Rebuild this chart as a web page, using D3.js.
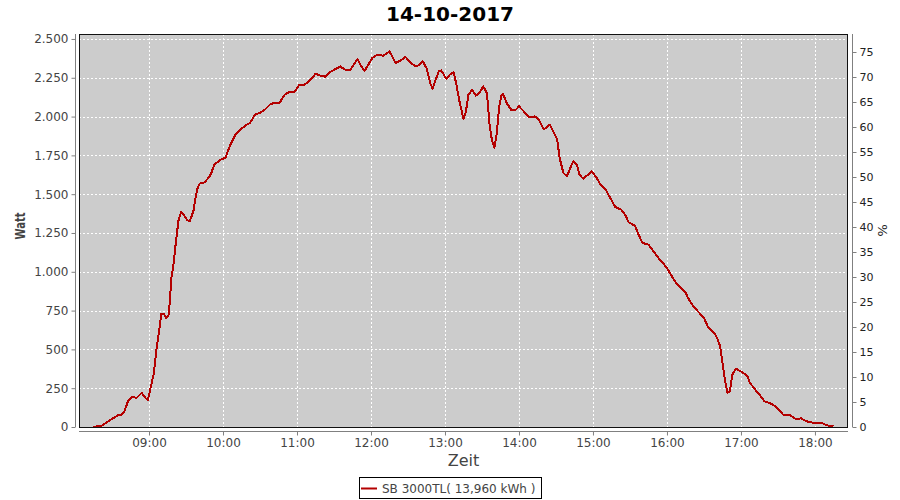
<!DOCTYPE html>
<html><head><meta charset="utf-8">
<script src="https://cdn.jsdelivr.net/npm/d3@7"></script>
<style>body{margin:0;background:#fff}svg{display:block}text{font-family:"DejaVu Sans",sans-serif}</style>
</head><body><svg id="c" width="900" height="500"></svg>
<script>
const title = "14-10-2017";
const seriesName = "SB 3000TL( 13,960 kWh )";
const times = ["08:15","08:22","08:26","08:31","08:35","08:38","08:40","08:43","08:46","08:50","08:54","08:57","08:59","09:01","09:04","09:06","09:08","09:10","09:12","09:14","09:16","09:17","09:18","09:20","09:22","09:23","09:24","09:26","09:28","09:31","09:33","09:36","09:37","09:39","09:41","09:45","09:47","09:50","09:53","09:58","10:02","10:06","10:10","10:14","10:18","10:22","10:26","10:30","10:34","10:38","10:42","10:46","10:50","10:54","10:58","11:02","11:06","11:11","11:15","11:19","11:23","11:27","11:35","11:40","11:43","11:49","11:52","11:55","12:01","12:05","12:10","12:15","12:20","12:24","12:28","12:32","12:36","12:38","12:42","12:45","12:48","12:50","12:52","12:55","12:57","13:01","13:04","13:07","13:09","13:12","13:15","13:17","13:19","13:22","13:25","13:28","13:31","13:34","13:36","13:38","13:40","13:42","13:44","13:46","13:47","13:50","13:54","13:57","14:00","14:04","14:08","14:13","14:16","14:20","14:22","14:25","14:27","14:31","14:33","14:36","14:39","14:41","14:44","14:47","14:49","14:52","14:55","14:59","15:03","15:06","15:10","15:14","15:18","15:23","15:26","15:29","15:34","15:37","15:40","15:45","15:49","15:53","15:57","16:00","16:04","16:07","16:11","16:15","16:17","16:21","16:25","16:30","16:33","16:37","16:40","16:43","16:45","16:47","16:49","16:51","16:53","16:56","17:01","17:05","17:07","17:11","17:15","17:19","17:24","17:28","17:32","17:34","17:40","17:44","17:49","17:53","17:59","18:05","18:10","18:15"];
const watts = [0,10,31,57,76,80,102,166,194,188,220,188,173,241,349,499,606,731,729,703,724,821,950,1057,1207,1272,1336,1383,1368,1332,1325,1390,1444,1529,1568,1576,1594,1626,1690,1722,1735,1819,1883,1916,1941,1960,2012,2025,2045,2077,2090,2090,2141,2160,2160,2205,2205,2237,2276,2263,2257,2287,2323,2297,2297,2371,2323,2296,2377,2399,2392,2420,2345,2362,2384,2349,2323,2328,2355,2313,2216,2180,2227,2291,2297,2244,2270,2285,2216,2088,1986,2033,2141,2173,2135,2152,2194,2152,1959,1851,1798,1894,2066,2141,2147,2088,2040,2040,2066,2033,1995,2001,1980,1920,1927,1948,1916,1851,1733,1637,1615,1658,1712,1690,1626,1600,1619,1647,1605,1562,1534,1476,1418,1400,1368,1319,1297,1240,1186,1175,1132,1090,1053,1025,971,932,896,868,832,782,746,703,649,617,585,525,413,306,220,231,338,375,353,332,288,246,209,166,151,134,102,80,76,53,55,37,27,27,10,5];
const wattTicks = [0,250,500,750,1000,1250,1500,1750,2000,2250,2500];
const pctTicks = [0,5,10,15,20,25,30,35,40,45,50,55,60,65,70,75];

const svg = d3.select("#c");
const L=79, R=848, T=34, B=427;
const day = (h,m,s)=>new Date(2017,9,14,h,m,s||0);
const parse = s=>{const [h,m]=s.split(":").map(Number);return day(h,m);};
const x = d3.scaleTime().domain([day(8,3,14), day(18,26,48)]).range([L,R]);
const y = d3.scaleLinear().domain([0,2532]).range([B,T]);
const yp = d3.scaleLinear().domain([0,78.6]).range([B,T]);
const loc = d3.formatLocale({decimal:",",thousands:".",grouping:[3],currency:["","€"]});
const fmt = loc.format(",d");
const hours = d3.timeHour.range(day(9,0), day(18,30));
const snap = v=>Math.round(v)+0.5;

svg.append("rect").attr("x",L).attr("y",T).attr("width",R-L).attr("height",B-T).attr("fill","#cccccc");
const grid = svg.append("g").attr("stroke","#fff").attr("stroke-dasharray","2,2").attr("stroke-width",1);
wattTicks.forEach(v=>grid.append("line").attr("x1",L).attr("x2",R).attr("y1",snap(y(v))).attr("y2",snap(y(v))));
hours.forEach(h=>grid.append("line").attr("y1",T).attr("y2",B).attr("x1",snap(x(h))).attr("x2",snap(x(h))));

const pts = times.map((t,i)=>[parse(t), watts[i]]);
svg.append("clipPath").attr("id","pc").append("rect").attr("x",L).attr("y",T).attr("width",R-L).attr("height",B-T);
svg.append("path").attr("clip-path","url(#pc)").attr("d", d3.line().x(d=>x(d[0])).y(d=>y(d[1]))(pts))
  .attr("fill","none").attr("stroke","#b40000").attr("stroke-width",2).attr("stroke-linejoin","round")
  .attr("shape-rendering","crispEdges");

svg.append("rect").attr("x",L+0.5).attr("y",T+0.5).attr("width",R-L-1).attr("height",B-T).attr("fill","none").attr("stroke","#111").attr("stroke-width",1);

function styleAxis(g){
  g.selectAll("path.domain").attr("stroke","#808080");
  g.selectAll(".tick line").attr("stroke","#808080");
  g.selectAll(".tick text").attr("fill","#444").style("font-family","DejaVu Sans").style("font-size","12px");
}
const ya = svg.append("g").attr("transform","translate(75.5,0)")
  .call(d3.axisLeft(y).tickValues(wattTicks).tickFormat(fmt).tickSize(4).tickSizeOuter(0).tickPadding(3));
styleAxis(ya);
const yra = svg.append("g").attr("transform","translate(852.5,0)")
  .call(d3.axisRight(yp).tickValues(pctTicks).tickSize(4).tickSizeOuter(0).tickPadding(3));
styleAxis(yra);
yra.selectAll(".tick text").style("font-size","11px").attr("fill","#222");
const xa = svg.append("g").attr("transform","translate(0,431.5)")
  .call(d3.axisBottom(x).tickValues(hours).tickFormat(d3.timeFormat("%H:%M")).tickSize(4).tickSizeOuter(0).tickPadding(3));
styleAxis(xa);
ya.select("path.domain").attr("d",`M0,${T}V${B}`);
yra.select("path.domain").attr("d",`M0,${T}V${B}`);
xa.select("path.domain").attr("d",`M${L},0H${R}`);

svg.append("text").attr("x",450).attr("y",21).attr("text-anchor","middle").attr("font-weight","bold").attr("font-size","20px").attr("fill","#000").text(title);
svg.append("text").attr("transform",`translate(25,226) rotate(-90)`).attr("text-anchor","middle").attr("font-size","14px").attr("font-weight","bold")
  .attr("textLength",27).attr("lengthAdjust","spacingAndGlyphs").attr("fill","#444").text("Watt");
svg.append("text").attr("x",(L+R)/2).attr("y",466).attr("text-anchor","middle").attr("font-size","16px").attr("fill","#444").text("Zeit");
svg.append("text").attr("transform",`translate(878,${(T+B)/2}) rotate(90)`).attr("text-anchor","middle").attr("font-size","13px").attr("fill","#222").text("%");

const lg = svg.append("g");
lg.append("rect").attr("x",359.5).attr("y",477.5).attr("width",182).attr("height",21).attr("fill","#fff").attr("stroke","#000");
lg.append("line").attr("x1",361).attr("x2",377).attr("y1",488.5).attr("y2",488.5).attr("stroke","#b40000").attr("stroke-width",2);
lg.append("text").attr("x",382).attr("y",493).attr("font-size","12px").attr("fill","#444").text(seriesName);
</script></body></html>
